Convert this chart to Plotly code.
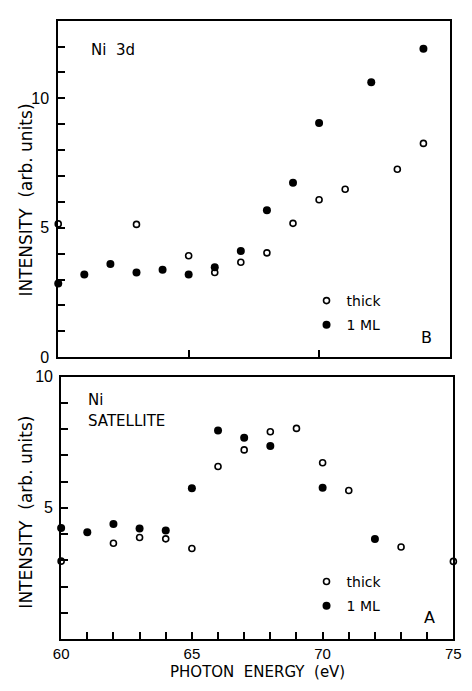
import plotly.graph_objects as go

# ---- data ----
# Panel B: Ni 3d
e3d_thick = [60, 63, 65, 66, 67, 68, 69, 70, 71, 73, 74]
i3d_thick = [5.15, 5.13, 3.92, 3.27, 3.67, 4.03, 5.17, 6.08, 6.49, 7.26, 8.26]
e3d_ml = [60, 61, 62, 63, 64, 65, 66, 67, 68, 69, 70, 72, 74]
i3d_ml = [2.85, 3.19, 3.6, 3.27, 3.38, 3.19, 3.47, 4.1, 5.68, 6.74, 9.05, 10.62, 11.92]

# Panel A: Ni satellite
esat_thick = [60, 62, 63, 64, 65, 66, 67, 68, 69, 70, 71, 73, 75]
isat_thick = [2.97, 3.65, 3.87, 3.82, 3.45, 6.58, 7.21, 7.90, 8.03, 6.72, 5.66, 3.51, 2.96]
esat_ml = [60, 61, 62, 63, 64, 65, 66, 67, 68, 70, 72]
isat_ml = [4.23, 4.07, 4.39, 4.21, 4.14, 5.75, 7.95, 7.67, 7.36, 5.77, 3.81]

x_tickvals = list(range(60, 76))
x_ticktext = [str(v) if v % 5 == 0 else "" for v in x_tickvals]
yB_tickvals = list(range(0, 14))
yB_ticktext = [str(v) if v in (0, 5, 10) else "" for v in yB_tickvals]
yA_tickvals = list(range(0, 11))
yA_ticktext = [str(v) if v in (5, 10) else "" for v in yA_tickvals]

W, H = 472, 691
FONT = "Liberation Sans"
TFONT = "DejaVu Sans"


def px(x):
    return x / W


def py(y):
    return 1 - y / H


fig = go.Figure()

open_marker = dict(symbol="circle-open", size=6, color="black", line=dict(width=1.6, color="black"))
fill_marker = dict(symbol="circle", size=8, color="black")

# Top panel (B)
fig.add_trace(go.Scatter(x=e3d_thick, y=i3d_thick, mode="markers", marker=open_marker,
                         name="thick", xaxis="x2", yaxis="y2", legend="legend2",
                         legendgroup="a", cliponaxis=False))
fig.add_trace(go.Scatter(x=e3d_ml, y=i3d_ml, mode="markers", marker=fill_marker,
                         name="1 ML", xaxis="x2", yaxis="y2", legend="legend2",
                         legendgroup="b", cliponaxis=False))
# Bottom panel (A)
fig.add_trace(go.Scatter(x=esat_thick, y=isat_thick, mode="markers", marker=open_marker,
                         name="thick", xaxis="x", yaxis="y", legend="legend",
                         legendgroup="c", cliponaxis=False))
fig.add_trace(go.Scatter(x=esat_ml, y=isat_ml, mode="markers", marker=fill_marker,
                         name="1 ML", xaxis="x", yaxis="y", legend="legend",
                         legendgroup="d", cliponaxis=False))

axis_common = dict(showline=True, linecolor="black", linewidth=2, mirror=True,
                   showgrid=False, zeroline=False, ticks="inside", ticklen=7,
                   tickwidth=1.5, tickcolor="black",
                   tickfont=dict(family=FONT, size=16, color="black"))

legend_common = dict(xanchor="left", yanchor="top", bgcolor="rgba(0,0,0,0)",
                     borderwidth=0, itemwidth=30, tracegroupgap=3,
                     font=dict(family=TFONT, size=14, color="black"))

fig.update_layout(
    width=W, height=H,
    margin=dict(l=0, r=0, t=0, b=0),
    paper_bgcolor="white", plot_bgcolor="white",
    font=dict(family=FONT, color="black"),
    xaxis=dict(axis_common, domain=[px(55), px(461)], range=[60, 75], anchor="y",
               tickvals=x_tickvals, ticktext=x_ticktext, ticklabelstandoff=0,
               tickfont=dict(family=FONT, size=15, color="black")),
    yaxis=dict(axis_common, domain=[py(647), py(378)], range=[0, 10], anchor="x",
               tickvals=yA_tickvals, ticktext=yA_ticktext, ticklabelstandoff=3),
    xaxis2=dict(axis_common, domain=[px(52), px(457)], range=[60, 75], anchor="y2",
                tickvals=[65, 70], showticklabels=False),
    yaxis2=dict(axis_common, domain=[py(358), py(13)], range=[0, 13], anchor="x2",
                tickvals=yB_tickvals, ticktext=yB_ticktext, ticklabelstandoff=4),
    showlegend=True,
    legend=dict(legend_common, x=px(309), y=py(572)),
    legend2=dict(legend_common, x=px(309), y=py(284)),
)

ann_font = dict(family=TFONT, size=15, color="black")
annotations = [
    dict(text="Ni  3d", x=px(84), y=py(43), xanchor="left", yanchor="middle", font=ann_font),
    dict(text="B", x=px(433), y=py(338), xanchor="center", yanchor="middle", font=dict(ann_font, size=16)),
    dict(text="Ni", x=px(81), y=py(402), xanchor="left", yanchor="middle", font=ann_font),
    dict(text="SATELLITE", x=px(81), y=py(423), xanchor="left", yanchor="middle", font=ann_font),
    dict(text="A", x=px(436), y=py(625), xanchor="center", yanchor="middle", font=dict(ann_font, size=16)),
    dict(text="INTENSITY  (arb. units)", x=px(19), y=py(197), textangle=-90,
         xanchor="center", yanchor="middle", font=dict(family=TFONT, size=17, color="black")),
    dict(text="INTENSITY  (arb. units)", x=px(19), y=py(517), textangle=-90,
         xanchor="center", yanchor="middle", font=dict(family=TFONT, size=17, color="black")),
    dict(text="PHOTON  ENERGY  (eV)", x=px(258), y=py(691), xanchor="center", yanchor="bottom",
         borderpad=0, font=dict(family=TFONT, size=15, color="black")),
]
for a in annotations:
    a.update(xref="paper", yref="paper", showarrow=False)
fig.update_layout(annotations=annotations)

fig.write_html("out.html")
